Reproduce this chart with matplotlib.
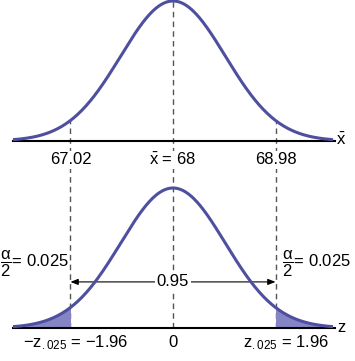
import numpy as np
import matplotlib
matplotlib.use("Agg")
import matplotlib.pyplot as plt

# chart values
sample_mean = 68
std_error = 0.5
z_crit = 1.96
alpha_half = 0.025
confidence = 0.95
top_labels = ["67.02", r"$\bar{\mathregular{x}}$ = 68", "68.98"]
bottom_labels = [r"$\mathregular{−z_{.025}}$ = −1.96", "0", r"$\mathregular{z_{.025}}$ = 1.96"]

plt.rcParams["font.family"] = ["Liberation Sans", "DejaVu Sans"]
plt.rcParams["mathtext.fontset"] = "custom"
plt.rcParams["mathtext.rm"] = "Liberation Sans"
plt.rcParams["mathtext.it"] = "Liberation Sans:italic"

curve_col = "#4f4fa0"
fill_col = "#8584c4"
dash_col = "#555555"
fs = 12

def bell(z):
    # normal curve scaled so the peak is 1
    return np.exp(-z ** 2 / 2)

top_base = 1.336
z = np.linspace(-3.06, 3.06, 400)

fig = plt.figure(figsize=(3.55, 3.61), dpi=100)
ax = fig.add_axes([0, 0, 1, 1])
ax.set_xlim(-3.308, 3.48)
ax.set_ylim(-0.236, 2.343)
ax.axis("off")

# the two curves and baselines
for base in [top_base, 0]:
    ax.plot([-3.06, 3.10], [base, base], color="black", lw=1.5, zorder=3)
    ax.plot(z, base + bell(z), color=curve_col, lw=2.2, zorder=4, solid_capstyle="butt")

# shaded tails on the lower curve
for side in [-1, 1]:
    zt = np.linspace(z_crit, 3.06, 100) * side
    ax.fill_between(zt, 0, bell(zt), color=fill_col, lw=0, zorder=2)

# dashed guide lines
ax.plot([0, 0], [0, 2.343], color=dash_col, lw=1, ls=(0, (4, 3)), zorder=1)
for side in [-1, 1]:
    ax.plot([side * z_crit] * 2, [0, top_base + bell(z_crit)], color=dash_col,
            lw=1, ls=(0, (4, 3)), zorder=1)

# tick labels
ticks = [-z_crit, 0, z_crit]
for xv, lab in zip(ticks, top_labels):
    ax.text(xv, 1.2, lab, ha="center", va="center", fontsize=fs, zorder=5,
            bbox=dict(facecolor="white", edgecolor="none", pad=1))
bottom_x = [-1.85, 0, 2.16]
for xv, lab in zip(bottom_x, bottom_labels):
    ax.text(xv, -0.107, lab, ha="center", va="center", fontsize=fs, zorder=5)

ax.text(3.22, top_base + 0.01, r"$\bar{\mathregular{x}}$", ha="center", va="center", fontsize=fs)
ax.text(3.22, 0, "z", ha="center", va="center", fontsize=fs)

# 0.95 arrow
arr_y = 0.329
for side in [-1, 1]:
    ax.annotate("", xy=(side * z_crit, arr_y), xytext=(0, arr_y),
                arrowprops=dict(arrowstyle="-|>,head_length=0.45,head_width=0.18",
                                color="black", lw=0.8, shrinkA=0, shrinkB=0))
ax.text(0, arr_y, f"{confidence:.2f}", ha="center", va="center", fontsize=fs, zorder=5,
        bbox=dict(facecolor="white", edgecolor="none", pad=1))

# alpha/2 labels
a_lab = r"$\mathregular{\dfrac{\alpha}{2}}$= " + f"{alpha_half:.3f}"
ax.text(-3.308, 0.457, a_lab, ha="left", va="center", fontsize=fs)
ax.text(2.08, 0.457, a_lab, ha="left", va="center", fontsize=fs)

fig.savefig("out.png", dpi=100)
